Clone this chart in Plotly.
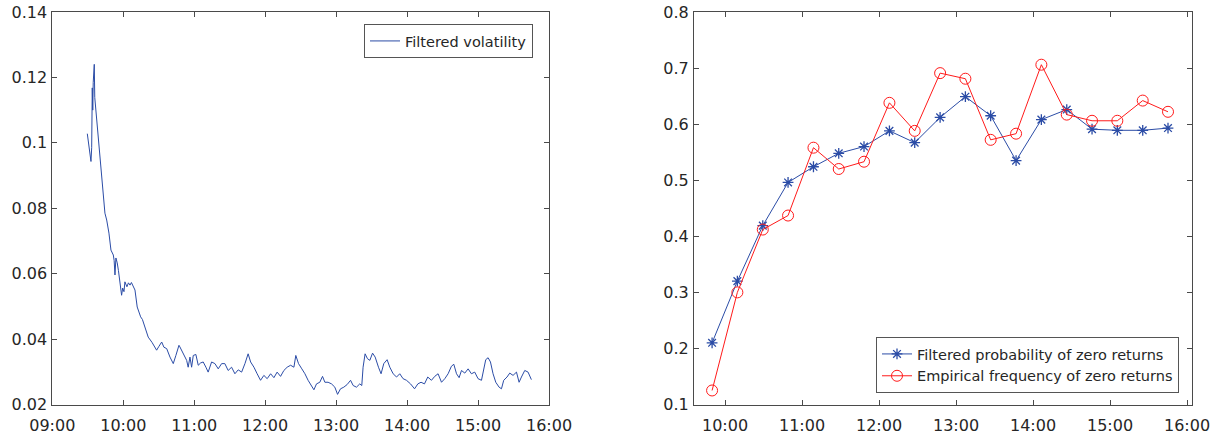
import pandas as pd
import plotly.graph_objects as go

# ---- Filtered volatility (minutes after 09:00, value) ----
vol_minutes = [
    29.6, 31.4, 32.7, 33.3, 33.8, 34.2, 34.6, 35.5, 35.9, 38.9, 42.6, 44.5, 46.0, 47.1,
    47.9, 49.6, 51.6, 52.3, 53.0, 53.8, 54.9, 55.9, 57.2, 58.6, 59.5, 60.6, 61.4, 63.1,
    64.4, 65.7, 66.9, 68.5, 69.9, 71.8, 74.7, 76.2, 78.3, 81.1, 84.3, 88.2, 90.2, 92.5,
    94.4, 96.7, 99.5, 102.3, 104.5, 107.1, 107.9, 110.7, 113.6, 114.9, 116.4, 117.8,
    119.2, 121.4, 123.4, 125.4, 127.6, 129.9, 131.8, 134.7, 137.5, 140.3, 143.2, 145.9,
    148.7, 151.6, 154.4, 157.2, 160.1, 162.9, 165.6, 167.7, 170.5, 173.2, 176.1, 178.9,
    181.7, 184.6, 187.4, 190.1, 193.0, 195.8, 198.6, 201.5, 204.3, 205.9, 208.2, 211.0,
    213.6, 216.3, 219.2, 221.2, 223.4, 226.2, 228.5, 230.5, 233.2, 236.1, 238.9, 241.2,
    243.7, 246.5, 249.3, 252.2, 254.4, 257.2, 260.0, 261.7, 262.8, 264.5, 266.5, 268.5,
    270.8, 273.0, 275.8, 278.0, 280.3, 283.1, 285.4, 288.2, 291.1, 293.8, 296.6, 299.5,
    302.9, 306.3, 309.1, 311.8, 314.7, 317.5, 320.6, 323.4, 326.2, 329.1, 331.9, 334.7,
    337.5, 339.5, 341.8, 344.0, 346.0, 348.8, 351.6, 354.4, 357.2, 360.0, 362.9, 364.8,
    366.5, 368.5, 370.5, 372.7, 375.0, 377.8, 379.8, 381.7, 384.5, 386.8, 389.6, 392.5,
    394.7, 396.7, 399.5, 402.3, 405.1,
]
vol_values = [
    0.1028, 0.0980, 0.0943, 0.0985, 0.1168, 0.1100, 0.1185, 0.1240, 0.1139, 0.1010,
    0.0856, 0.0785, 0.0764, 0.0745, 0.0724, 0.0672, 0.0657, 0.0640, 0.0596, 0.0648,
    0.0633, 0.0610, 0.0571, 0.0534, 0.0556, 0.0545, 0.0575, 0.0560, 0.0572, 0.0565,
    0.0573, 0.0562, 0.0550, 0.0498, 0.0468, 0.0460, 0.0437, 0.0406, 0.0390, 0.0366,
    0.0378, 0.0391, 0.0375, 0.0371, 0.0345, 0.0325, 0.0350, 0.0381, 0.0376, 0.0355,
    0.0335, 0.0314, 0.0345, 0.0314, 0.0350, 0.0353, 0.0320, 0.0327, 0.0330, 0.0314,
    0.0299, 0.0330, 0.0325, 0.0309, 0.0325, 0.0325, 0.0304, 0.0314, 0.0294, 0.0306,
    0.0299, 0.0325, 0.0355, 0.0330, 0.0314, 0.0294, 0.0274, 0.0289, 0.0279, 0.0294,
    0.0282, 0.0299, 0.0286, 0.0304, 0.0314, 0.0320, 0.0314, 0.0350, 0.0325, 0.0309,
    0.0294, 0.0274, 0.0258, 0.0245, 0.0263, 0.0268, 0.0286, 0.0268, 0.0268, 0.0263,
    0.0253, 0.0231, 0.0248, 0.0253, 0.0261, 0.0274, 0.0258, 0.0253, 0.0263, 0.0258,
    0.0314, 0.0355, 0.0340, 0.0335, 0.0357, 0.0345, 0.0314, 0.0294, 0.0325, 0.0337,
    0.0314, 0.0294, 0.0284, 0.0294, 0.0279, 0.0274, 0.0263, 0.0248, 0.0263, 0.0268,
    0.0263, 0.0284, 0.0274, 0.0286, 0.0294, 0.0268, 0.0279, 0.0294, 0.0317, 0.0323,
    0.0294, 0.0282, 0.0304, 0.0296, 0.0309, 0.0294, 0.0299, 0.0279, 0.0274, 0.0314,
    0.0337, 0.0343, 0.0330, 0.0294, 0.0268, 0.0253, 0.0248, 0.0274, 0.0284, 0.0296,
    0.0289, 0.0299, 0.0268, 0.0284, 0.0304, 0.0299, 0.0276,
]

# ---- Zero-return probabilities per intraday interval (minutes after 09:00) ----
bin_minutes = [49.9, 69.6, 89.4, 109.1, 128.9, 148.6, 168.3, 188.1, 207.8, 227.6,
               247.3, 267.0, 286.8, 306.5, 326.3, 346.0, 365.7, 385.5, 405.2]
filtered_prob = [0.210, 0.320, 0.419, 0.496, 0.524, 0.548, 0.560, 0.588, 0.567, 0.612,
                 0.649, 0.615, 0.535, 0.608, 0.626, 0.591, 0.589, 0.589, 0.593]
empirical_freq = [0.125, 0.300, 0.412, 0.437, 0.558, 0.520, 0.533, 0.638, 0.588, 0.691,
                  0.681, 0.572, 0.583, 0.706, 0.617, 0.606, 0.606, 0.642, 0.622]

left_yticks = [0.02, 0.04, 0.06, 0.08, 0.10, 0.12, 0.14]
left_yticktext = ["0.02", "0.04", "0.06", "0.08", "0.1", "0.12", "0.14"]
right_yticks = [0.1, 0.2, 0.3, 0.4, 0.5, 0.6, 0.7, 0.8]
right_yticktext = ["0.1", "0.2", "0.3", "0.4", "0.5", "0.6", "0.7", "0.8"]

DAY = pd.Timestamp("2000-01-03 09:00")


def clock(minutes):
    return [DAY + pd.Timedelta(minutes=m) for m in minutes]


BLUE = "#2b4ca6"
RED = "#ff1a1a"
AX = "#4a4a4a"
FONT = "DejaVu Sans, Verdana, sans-serif"
TXT = "#262626"

fig = go.Figure()

fig.add_trace(go.Scatter(
    x=clock(vol_minutes), y=vol_values, mode="lines",
    line=dict(color=BLUE, width=1), name="Filtered volatility",
    xaxis="x", yaxis="y", legend="legend", showlegend=True,
))

fig.add_trace(go.Scatter(
    x=clock(bin_minutes), y=filtered_prob, mode="lines+markers",
    line=dict(color=BLUE, width=1),
    marker=dict(symbol="asterisk-open", size=9, color=BLUE, line=dict(color=BLUE, width=1.3)),
    name="Filtered probability of zero returns",
    xaxis="x2", yaxis="y2", legend="legend2", showlegend=True,
))
fig.add_trace(go.Scatter(
    x=clock(bin_minutes), y=empirical_freq, mode="lines+markers",
    line=dict(color=RED, width=1),
    marker=dict(symbol="circle-open", size=11, color=RED, line=dict(color=RED, width=1)),
    name="Empirical frequency of zero returns",
    xaxis="x2", yaxis="y2", legend="legend2", showlegend=True,
))

W, H = 1228, 438
y_dom = [1 - 404.5 / H, 1 - 12 / H]

axis_common = dict(
    showline=True, linecolor=AX, linewidth=1, mirror="ticks",
    ticks="inside", ticklen=5, tickcolor=AX, tickwidth=1,
    showgrid=False, zeroline=False, automargin=False,
    tickfont=dict(family=FONT, size=16, color=TXT),
)

legend_common = dict(
    bgcolor="white", bordercolor="#555555", borderwidth=1,
    font=dict(family=FONT, size=14.5, color=TXT),
    itemwidth=30, tracegroupgap=0, visible=True,
)

fig.update_layout(
    width=W, height=H,
    margin=dict(l=0, r=0, t=0, b=0, pad=0, autoexpand=False),
    paper_bgcolor="white", plot_bgcolor="white",
    font=dict(family=FONT, size=14, color=TXT),
    showlegend=True,
    xaxis=dict(
        domain=[52.3 / W, 549 / W], type="date",
        range=[DAY, DAY + pd.Timedelta(hours=7)],
        tick0=DAY, dtick=3600000, tickformat="%H:%M", anchor="y",
        ticklabelstandoff=6, **axis_common,
    ),
    yaxis=dict(
        domain=y_dom, range=[0.02, 0.14], tickvals=left_yticks,
        ticktext=left_yticktext, anchor="x", ticklabelstandoff=1, **axis_common,
    ),
    xaxis2=dict(
        domain=[694 / W, 1192 / W], type="date",
        range=[DAY + pd.Timedelta(minutes=35.8), DAY + pd.Timedelta(minutes=423.9)],
        tick0=DAY, dtick=3600000, tickformat="%H:%M", anchor="y2",
        ticklabelstandoff=6, **axis_common,
    ),
    yaxis2=dict(
        domain=y_dom, range=[0.1, 0.8], tickvals=right_yticks,
        ticktext=right_yticktext, anchor="x2", ticklabelstandoff=1, **axis_common,
    ),
    legend=dict(x=533 / W, y=1 - 24 / H, xanchor="right", yanchor="top", **legend_common),
    legend2=dict(x=1179 / W, y=1 - 393 / H, xanchor="right", yanchor="bottom", **legend_common),
)

fig.write_html("out.html")
